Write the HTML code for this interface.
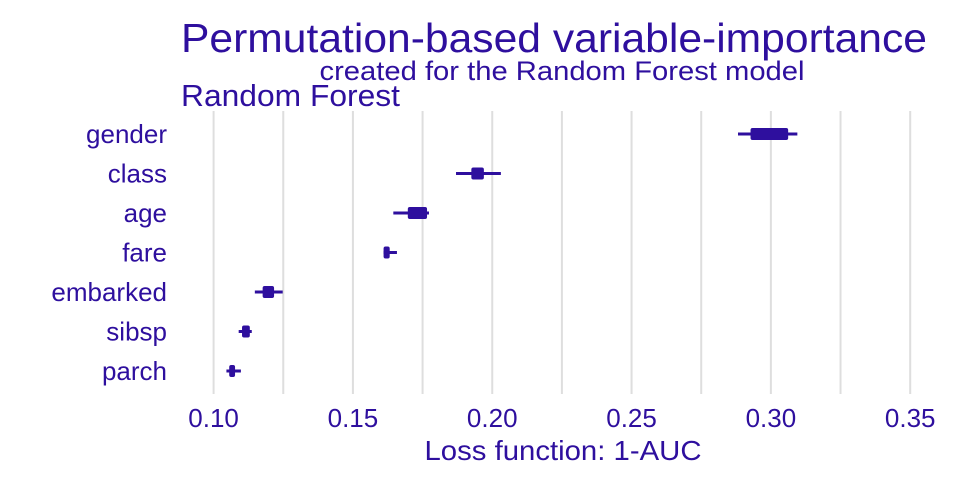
<!DOCTYPE html>
<html><head><meta charset="utf-8"><style>
html,body{margin:0;padding:0;background:#fff;}
svg{display:block;font-family:"Liberation Sans",Arial,sans-serif;}
</style></head><body>
<svg id="chart" width="960" height="480" viewBox="0 0 960 480">
<text x="554" y="52" font-size="41" fill="#2e0f9e" text-anchor="middle" textLength="746" lengthAdjust="spacingAndGlyphs">Permutation-based variable-importance</text>
<text x="562" y="80" font-size="27" fill="#2e0f9e" text-anchor="middle" textLength="485" lengthAdjust="spacingAndGlyphs">created for the Random Forest model</text>
<text x="181" y="106" font-size="31" fill="#2e0f9e" textLength="219" lengthAdjust="spacingAndGlyphs">Random Forest</text>
<g id="grid"></g><g id="ylabels"></g><g id="marks"></g><g id="xticks"></g>
<text x="563" y="460" font-size="28" fill="#2e0f9e" text-anchor="middle" textLength="277" lengthAdjust="spacingAndGlyphs">Loss function: 1-AUC</text>
</svg>
<script>
const categories = ["gender","class","age","fare","embarked","sibsp","parch"];
const whiskerLow = [0.2882,0.1870,0.1645,0.1610,0.1148,0.1090,0.1046];
const boxLow = [0.2927,0.1925,0.1697,0.1610,0.1176,0.1102,0.1056];
const boxHigh = [0.3062,0.1970,0.1766,0.1632,0.1217,0.1130,0.1077];
const whiskerHigh = [0.3095,0.2031,0.1773,0.1658,0.1248,0.1137,0.1098];
const gridValues = [0.10,0.125,0.15,0.175,0.20,0.225,0.25,0.275,0.30,0.325,0.35];
const tickValues = [0.10,0.15,0.20,0.25,0.30,0.35];
const tickLabels = ["0.10","0.15","0.20","0.25","0.30","0.35"];

const NS="http://www.w3.org/2000/svg";
const x = v => 213.6 + (v-0.10)/0.25*696.6;
const y = i => 134 + i*39.5;
const C="#2e0f9e";
function mk(tag, attrs, parent){const e=document.createElementNS(NS,tag);for(const k in attrs)e.setAttribute(k,attrs[k]);parent.appendChild(e);return e;}
const grid=document.getElementById('grid'), yl=document.getElementById('ylabels'), marks=document.getElementById('marks'), xt=document.getElementById('xticks');
gridValues.forEach(v=>{
  const l=mk('line',{x1:x(v),x2:x(v),y1:111,y2:394,stroke:'#dedede','stroke-width':2},grid);
  
  
});
categories.forEach((c,i)=>{
  const t=mk('text',{x:167,y:y(i)+9,'font-size':26,fill:C,'text-anchor':'end'},yl);
  t.textContent=c;
  
  
  const w=mk('line',{x1:x(whiskerLow[i]),x2:x(whiskerHigh[i]),y1:y(i),y2:y(i),stroke:C,'stroke-width':3},marks);
  
  
  const b=mk('rect',{x:x(boxLow[i]),y:y(i)-6,width:Math.max(x(boxHigh[i])-x(boxLow[i]),4),height:12,rx:2,fill:C},marks);
  
  
});
tickValues.forEach((v,i)=>{
  const t=mk('text',{x:x(v),y:427,'font-size':26,fill:C,'text-anchor':'middle'},xt);
  t.textContent=tickLabels[i];
  
  
});
</script>
</body></html>
